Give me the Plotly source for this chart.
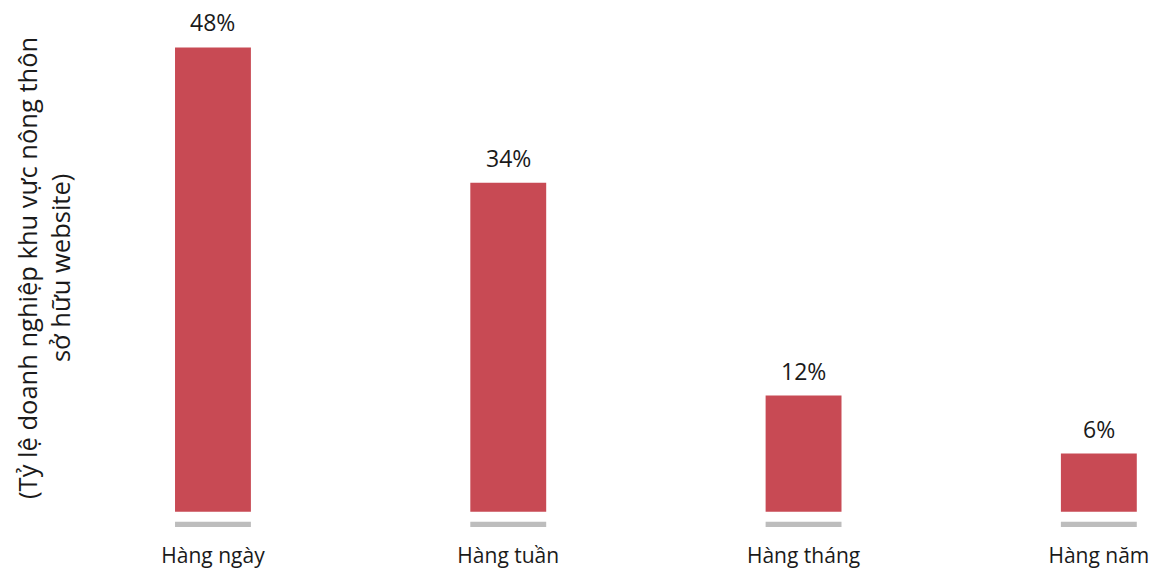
import plotly.graph_objects as go

# Tần suất cập nhật website
categories = ["Hàng ngày", "Hàng tuần", "Hàng tháng", "Hàng năm"]
shares = [48, 34, 12, 6]
y_title_lines = ["(Tỷ lệ doanh nghiệp khu vực nông thôn", "sở hữu website)"]

BAR_COLOR = "#C84A54"
BASE_COLOR = "#BDBDBD"
TEXT_COLOR = "#1a1a1a"
FONT = "Open Sans"

fig = go.Figure()

# Gray stub underneath each column
fig.add_trace(go.Bar(
    x=categories, y=[0.53] * len(categories), base=-1.58,
    width=0.257, marker=dict(color=BASE_COLOR, line=dict(width=0)),
    hoverinfo="skip", showlegend=False,
))

# Main columns
fig.add_trace(go.Bar(
    x=categories, y=shares, width=0.257,
    marker=dict(color=BAR_COLOR, line=dict(width=0)),
    hovertemplate="%{x}: %{y}%<extra></extra>", showlegend=False,
))

# Value labels above the columns
for c, v in zip(categories, shares):
    fig.add_annotation(
        x=c, y=v, text=f"{v}%", showarrow=False,
        yshift=25, yanchor="middle", xanchor="center",
        font=dict(family=FONT, size=23, color=TEXT_COLOR),
    )

# Rotated axis caption
fig.add_annotation(
    xref="paper", yref="paper", x=-0.0158, y=0.495,
    text="<br>".join(y_title_lines), textangle=-90, showarrow=False,
    xanchor="center", yanchor="middle", align="center",
    font=dict(family=FONT, size=25.5, color=TEXT_COLOR),
)

fig.update_layout(
    width=1152, height=569,
    margin=dict(l=60, r=0, t=0, b=38),
    barmode="overlay",
    plot_bgcolor="white", paper_bgcolor="white",
    font=dict(family=FONT, color=TEXT_COLOR),
    xaxis=dict(
        type="category", range=[-0.518, 3.18],
        showgrid=False, zeroline=False, showline=False, ticks="",
        ticklabelstandoff=10,
        tickfont=dict(family=FONT, size=21, color=TEXT_COLOR),
    ),
    yaxis=dict(
        range=[-2, 52.9], showgrid=False, zeroline=False,
        showline=False, showticklabels=False, ticks="",
    ),
)

fig.write_html("out.html")
